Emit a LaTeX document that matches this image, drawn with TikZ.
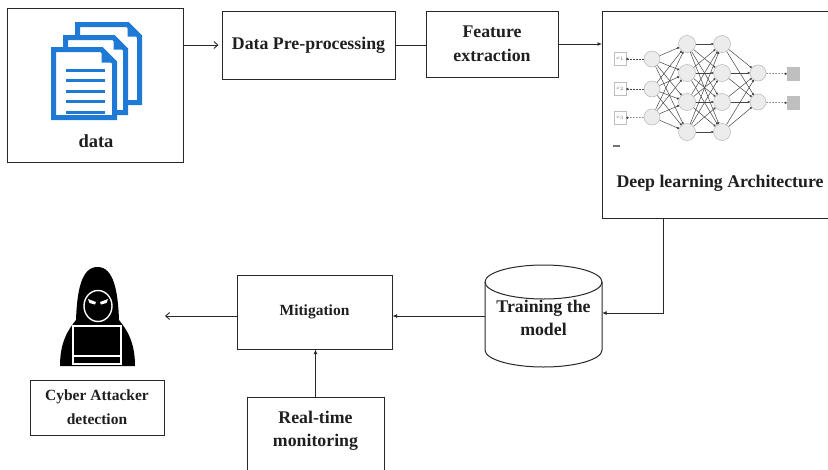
\documentclass[tikz,border=0pt]{standalone}
\usepackage{fontspec}
\setmainfont{Liberation Serif}
\usetikzlibrary{arrows.meta,calc}

\definecolor{docblue}{RGB}{30,122,212}
\definecolor{edge}{RGB}{40,40,40}
\definecolor{nnline}{RGB}{70,70,70}
\definecolor{nnfill}{RGB}{236,236,236}
\definecolor{nndraw}{RGB}{190,190,190}

\tikzset{
  box/.style={draw=edge, line width=1pt, fill=white, rectangle, inner sep=2pt},
  lbl/.style={font=\bfseries\fontsize{17.8}{23.5}\selectfont, align=center, text=black!88},
  lblsmall/.style={font=\bfseries\fontsize{15.5}{24}\selectfont, align=center, text=black!88},
  flow/.style={draw=edge, line width=0.9pt},
  openarrow/.style={flow, -{Straight Barb[length=4pt,width=7pt]}},
  filledarrow/.style={flow, -{Latex[length=4.5pt,width=4pt]}},
  page/.style={draw=docblue, line width=5pt, fill=white, line join=miter},
  neuron/.style={circle, draw=nndraw, fill=nnfill, line width=0.6pt, inner sep=0pt},
  nnedge/.style={draw=nnline, line width=0.5pt, -{Circle[length=2.2pt]}},
  nnio/.style={draw=nndraw, rectangle, line width=0.6pt, inner sep=0pt,
               minimum width=12pt, minimum height=13pt},
  nndash/.style={draw=nnline, line width=0.5pt, dash pattern=on 1.5pt off 1.5pt,
                 -{Circle[length=2.2pt]}},
}

\begin{document}
\begin{tikzpicture}[x=1pt,y=1pt]
  \clip (0,0) rectangle (828,-469);
  \fill[white] (0,0) rectangle (828,-469);

  % ---------- data source box ----------
  \node[box, minimum width=176pt, minimum height=154pt] (data) at (95,-85) {};
  % stacked document icon (back to front)
  \draw[page] (77.5,-24.5) -- (127.5,-24.5) -- (139.5,-36.5) -- (139.5,-102.5) -- (77.5,-102.5) -- cycle;
  \fill[docblue] (127.5,-24.5) -- (127.5,-36.5) -- (139.5,-36.5) -- cycle;
  \draw[page] (65.5,-37.5) -- (113.5,-37.5) -- (125.5,-49.5) -- (125.5,-112.5) -- (65.5,-112.5) -- cycle;
  \fill[docblue] (113.5,-37.5) -- (113.5,-49.5) -- (125.5,-49.5) -- cycle;
  \draw[page] (53.5,-49.5) -- (101.5,-49.5) -- (114.5,-62.5) -- (114.5,-117.5) -- (53.5,-117.5) -- cycle;
  \fill[docblue] (101.5,-49.5) -- (101.5,-62.5) -- (114.5,-62.5) -- cycle;
  \foreach \yy in {70,80,91,101,112}
    \draw[docblue, line width=3pt] (66,-\yy) -- (105,-\yy);
  \node[font=\bfseries\fontsize{18.5}{20}\selectfont, text=black!88] (datalbl) at (96,-141) {data};

  % ---------- processing chain ----------
  \node[box, lbl, minimum width=173pt, minimum height=68pt] (dpp) at (308.5,-45) {Data Pre-processing};
  \node[box, lbl, minimum width=132pt, minimum height=66pt] (fe) at (492,-44) {Feature\\extraction};

  % ---------- deep learning architecture ----------
  \node[box, minimum width=250pt, minimum height=207pt, anchor=north west] (dl) at (602,-11) {};
  \node[lbl] (dllbl) at (720,-183) {Deep learning Architecture};

  % input / output units
  \foreach \k/\yy in {1/59,2/89,3/118}
    \node[nnio, text=black!55, font=\fontsize{5}{5}\selectfont] (in\k) at (620,-\yy) {$x_{\k}$};
  \foreach \k/\yy in {1/74,2/103}
    \node[nnio, fill=black!25] (out\k) at (793,-\yy) {};
  % neurons
  \foreach \k/\yy in {1/59,2/89,3/117}
    \node[neuron, minimum size=16pt] (a\k) at (652,-\yy) {};
  \foreach \k/\yy in {1/44,2/73,3/102,4/132}{
    \node[neuron, minimum size=17pt] (b\k) at (687,-\yy) {};
    \node[neuron, minimum size=17pt] (c\k) at (722,-\yy) {};
  }
  \foreach \k/\yy in {1/73,2/102}
    \node[neuron, minimum size=16pt] (d\k) at (758,-\yy) {};
  % weights
  \foreach \i in {1,2,3}
    \foreach \j in {1,2,3,4}
      \draw[nnedge] (a\i) -- (b\j);
  \foreach \i in {1,2,3,4}
    \foreach \j in {1,2,3,4}
      \draw[nnedge] (b\i) -- (c\j);
  \foreach \i in {1,2,3,4}
    \foreach \j in {1,2}
      \draw[nnedge] (c\i) -- (d\j);
  \foreach \k in {1,2,3}
    \draw[nndash] (a\k) -- (in\k);
  \foreach \k in {1,2}
    \draw[nndash] (d\k) -- (out\k);
  \draw[black!55, line width=1.6pt] (613,-146) -- (620,-146);

  % ---------- training / mitigation ----------
  \node[minimum width=117pt, minimum height=102pt, inner sep=0pt] (train) at (543.5,-316) {};
  \path[draw=edge, line width=1pt, fill=white]
    (485,-282) -- (485,-350)
    arc[start angle=180, end angle=360, x radius=58.5pt, y radius=17pt]
    -- (602,-282)
    arc[start angle=0, end angle=180, x radius=58.5pt, y radius=17pt] -- cycle;
  \draw[edge, line width=1pt]
    (485,-282) arc[start angle=180, end angle=360, x radius=58.5pt, y radius=17pt];
  \node[lbl] (trainlbl) at (543.5,-318) {Training the\\model};

  \node[box, lblsmall, minimum width=155pt, minimum height=74pt] (mit) at (314.5,-312) {Mitigation};

  \node[box, minimum width=137pt, minimum height=86pt, anchor=north] (rtm) at (315.5,-397) {};
  \node[lbl] (rtmlbl) at (315.5,-431) {Real-time\\monitoring};

  % ---------- attacker ----------
  \node[box, lblsmall, minimum width=134pt, minimum height=55pt] (cyber) at (97,-407.5) {Cyber Attacker\\detection};
  \node[minimum width=75pt, minimum height=99pt, inner sep=0pt] (hacker) at (97.5,-316.5) {};
  \fill[black] (60,-366) .. controls (60,-342) and (68,-330) .. (76,-320)
     .. controls (77,-292) and (81,-267) .. (97.5,-267)
     .. controls (114,-267) and (118,-292) .. (119,-320)
     .. controls (127,-330) and (135,-342) .. (135,-366) -- cycle;
  \filldraw[fill=black, draw=white, line width=1.4pt] (98,-306) ellipse[x radius=14pt, y radius=15.5pt];
  \fill[white] (88,-299) -- (96,-302) -- (95,-304.5) -- (89.5,-303) -- cycle;
  \fill[white] (108,-299) -- (100,-302) -- (101,-304.5) -- (106.5,-303) -- cycle;
  \filldraw[fill=black, draw=white, line width=1.5pt] (73,-326) rectangle (121,-364);
  \draw[white, line width=1.5pt] (73,-356) -- (121,-356);
  \coordinate (hackertip) at (165,-316);

  % ---------- connectors ----------
  \draw[openarrow, shorten >=3pt] (data.east |- dpp.west) -- (dpp.west);
  \draw[flow] (dpp.east) -- (dpp.east -| fe.west);
  \draw[filledarrow] (fe.east) -- (fe.east -| dl.west);
  \draw[filledarrow] ($(dl.south west)+(61,0)$) |- (train.east |- 0,-313);
  \draw[filledarrow] (train.west) -- (train.west -| mit.east);
  \draw[filledarrow] (rtm.north) -- (rtm.north |- mit.south);
  \draw[openarrow] (mit.west |- hackertip) -- (hackertip);
\end{tikzpicture}
\end{document}
